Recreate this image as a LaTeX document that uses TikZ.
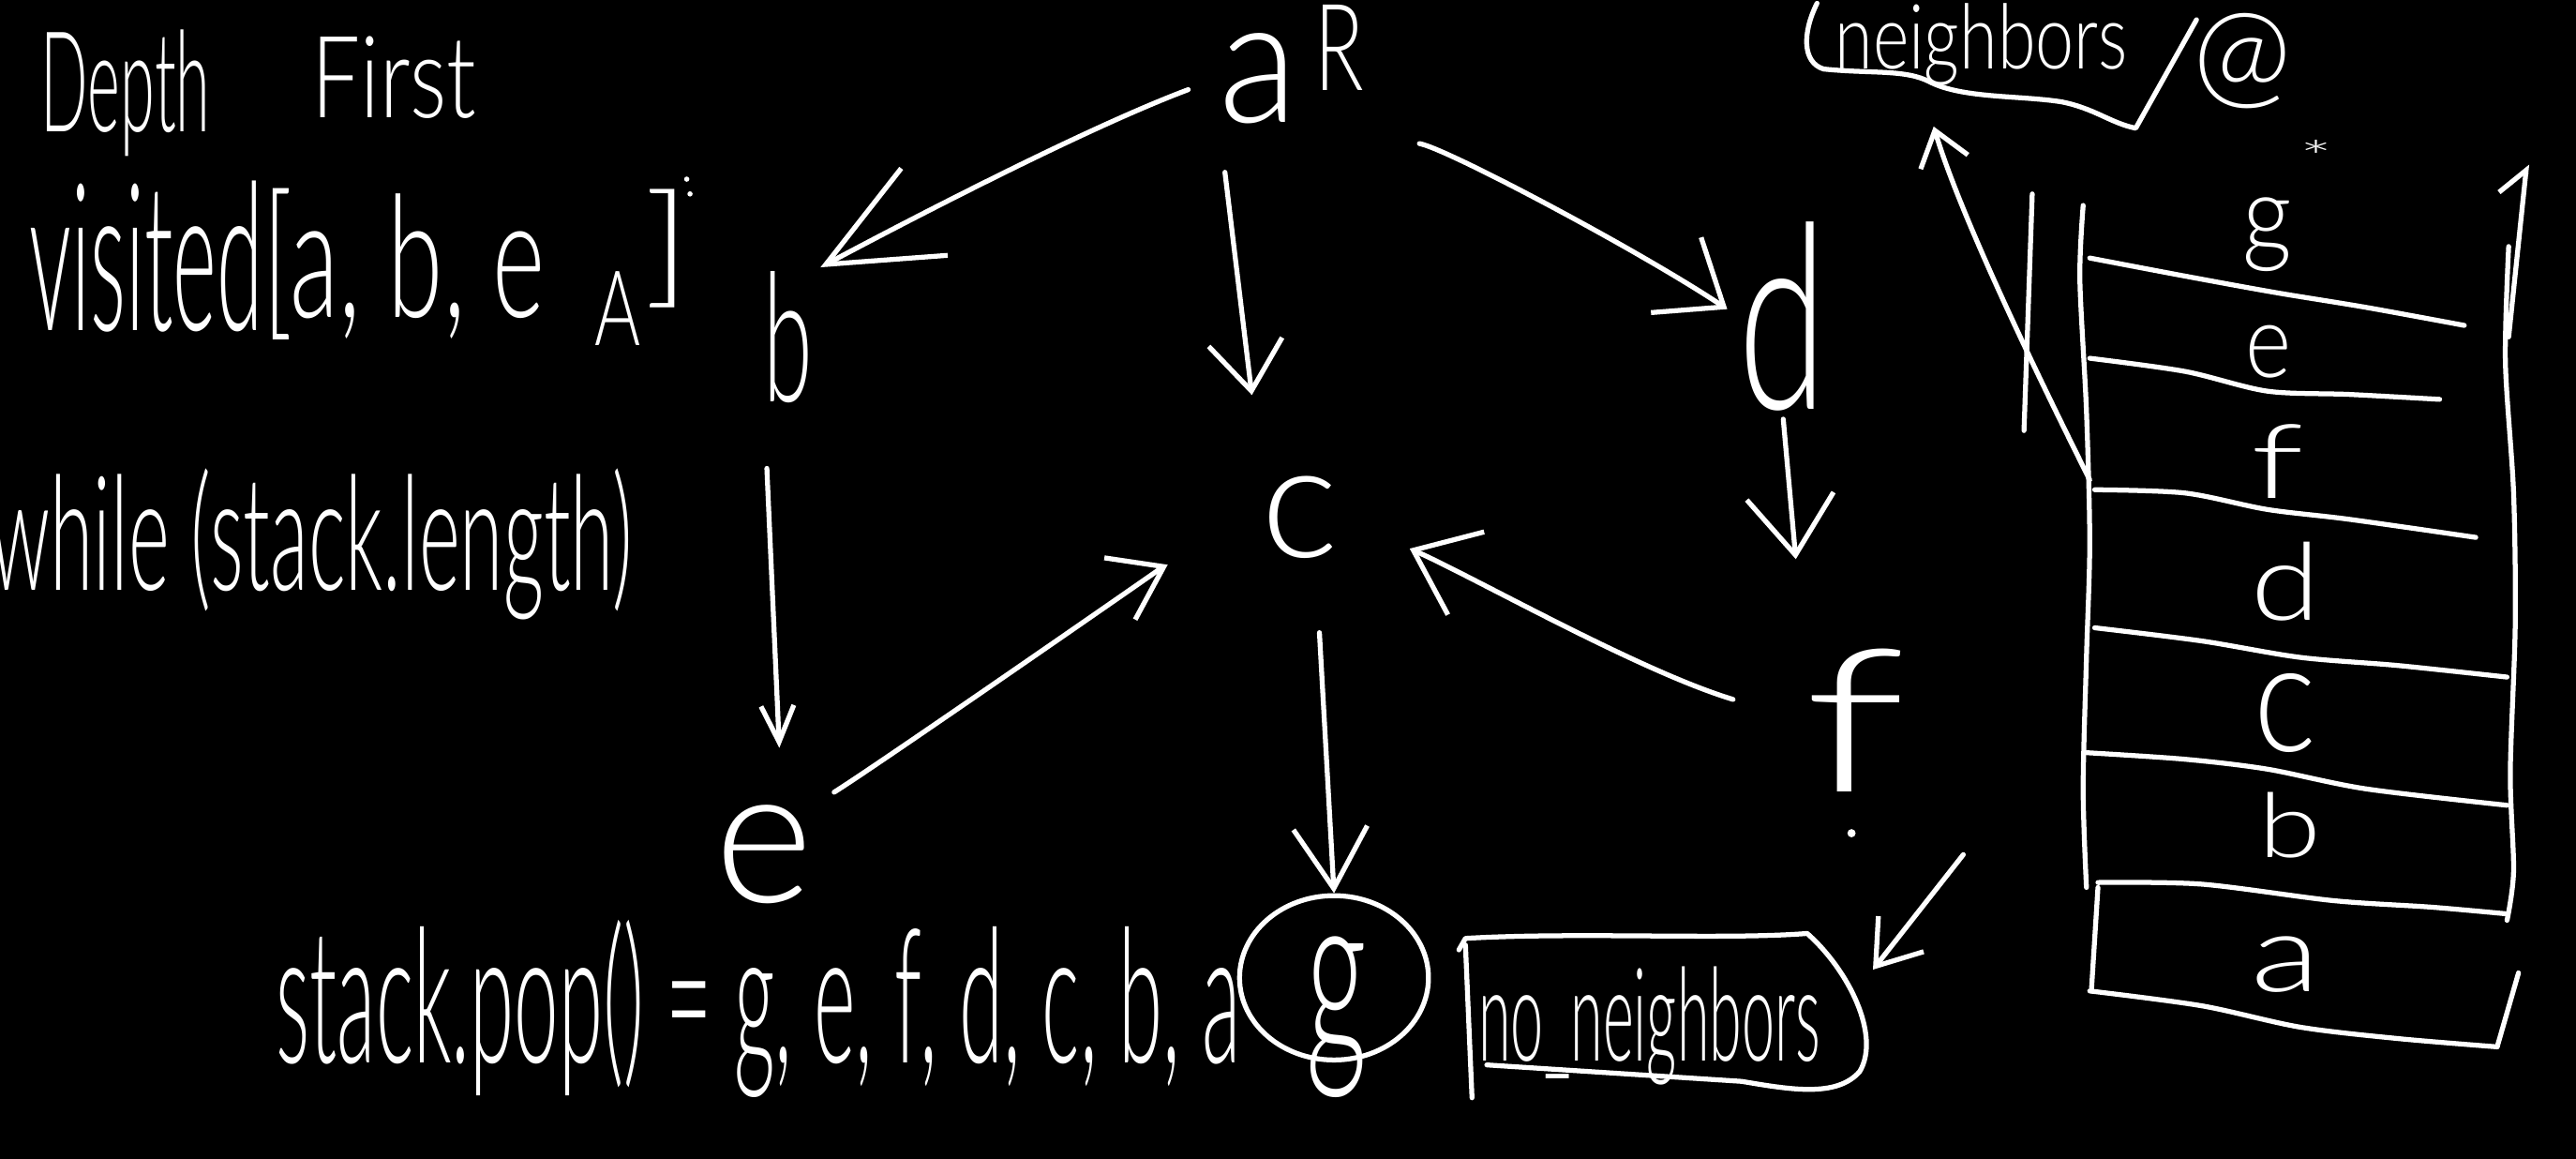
\documentclass[tikz,border=0pt]{standalone}
\usepackage{graphicx}
\usepackage{fontspec}
\usetikzlibrary{arrows.meta,shapes.geometric}

% chalk-like lettering in a light face
\IfFontExistsTF{Lato Light}{\newfontfamily\handL{Lato Light}}{\newfontfamily\handL{Lato}}

% text fitted to a box: name, left, top, width, height, text
\newcommand{\hwtext}[6]{%
  \node[txt] (#1) at (#2,#3) {\resizebox*{#4pt}{#5pt}{\handL #6}};}

\tikzset{
  txt/.style={inner sep=0pt, outer sep=0pt, text=white, anchor=north west},
  hd/.style 2 args={-{Straight Barb[length=#1pt,width=#2pt]}},
  chalk/.style={draw=white, line width=3pt, line cap=round, line join=round},
}

\begin{document}
\begin{tikzpicture}[x=1pt, y=-1pt, chalk]
\fill[black] (0,0) rectangle (1568,705);
\useasboundingbox (0,0) rectangle (1568,705);

% ---- notes on the left
\hwtext{depth}{25}{18}{103}{77}{Depth}
\hwtext{first}{190}{22}{100}{50}{First}
\hwtext{visited}{18}{110}{142}{92}{visited}
\hwtext{vlist}{160}{115}{172}{92}{[a, b, e}
\hwtext{vclose}{392}{115}{28}{72}{]}
\hwtext{vscrib}{362}{165}{28}{45}{A}
\fill[white] (418,109) circle (1.6) (420,118) circle (1.6);
\hwtext{while}{-6}{285}{391}{92}{while (stack.length)}
\hwtext{pop}{168}{560}{587}{108}{stack.pop() = g, e, f, d, c, b, a}

% ---- graph nodes
\hwtext{a}{742}{20}{48}{55}{a}
\hwtext{R}{800}{3}{30}{52}{R}
\hwtext{b}{465}{165}{30}{80}{b}
\hwtext{c}{768}{290}{47}{50}{c}
\hwtext{d}{1058}{135}{54}{115}{d}
\hwtext{e}{435}{490}{60}{60}{e}
\hwtext{f}{1098}{395}{62}{87}{f}
\hwtext{g}{795}{570}{37}{98}{g}
\node[draw, ellipse, minimum width=115pt, minimum height=100pt, inner sep=0pt] (gring) at (812,595) {};

% ---- "no_neighbors" label with its outline
\hwtext{nn}{900}{588}{208}{72}{no\_neighbors}
\draw (892,575) -- (896,668);
\draw (888,578) -- (892,571) .. controls (960,567) and (1050,572) .. (1100,568)
      .. controls (1125,590) and (1145,630) .. (1132,652)
      .. controls (1118,668) and (1090,663) .. (1060,658) -- (905,648);

% ---- graph edges
\draw[hd={68}{60}, shorten <=20pt, shorten >=5pt]
  (a.west) .. controls +(-80,30) and +(60,-32) .. (b.north east);
\draw[hd={30}{45}, shorten <=30pt, shorten >=50pt] (a.south west) -- (c.north west);
\draw[hd={35}{55}, shorten <=75pt, shorten >=8pt]
  (a.south east) .. controls +(90,15) and +(-60,-40) .. (d.west);
\draw[hd={22}{20}, shorten <=40pt, shorten >=35pt] (b.south west) -- (e.70);
\draw[hd={30}{42}, shorten <=15pt, shorten >=64pt]
  (e.north east) .. controls +(40,-25) and +(-60,30) .. (c.west);
\draw[hd={35}{55}, shorten <=45pt, shorten >=47pt]
  (f.west) .. controls +(-100,-30) and +(80,35) .. (c.east);
\draw[hd={36}{53}, shorten <=5pt, shorten >=55pt] (d.south) -- (f.north west);
\draw[hd={37}{45}, shorten <=45pt] (c.-70) -- (gring.north);
\draw[hd={25}{35}] ([shift={(35,38)}]f.south east) -- ([shift={(32,2)}]nn.north east);
\fill[white] (1127,507) circle (2.5);

% ---- neighbors(@) note
\hwtext{nbr}{1117}{2}{178}{50}{neighbors}
\hwtext{at}{1335}{8}{60}{58}{@}
\draw (1106,2) .. controls (1097,20) and (1097,38) .. (1110,42)
      .. controls (1140,45) and (1160,42) .. (1175,50)
      .. controls (1195,60) and (1230,58) .. (1255,62)
      .. controls (1275,66) and (1285,75) .. (1300,78) -- (1337,12);

% ---- stack
\draw plot[smooth] coordinates {(1268,125) (1266,170) (1270,250) (1272,330) (1270,400) (1268,480) (1270,540)};
\draw plot[smooth] coordinates {(1527,150) (1525,220) (1530,300) (1531,380) (1528,470) (1530,530) (1526,560)};
\draw plot[smooth] coordinates {(1272,157) (1330,168) (1385,178) (1440,187) (1500,198)};
\draw plot[smooth] coordinates {(1272,218) (1330,226) (1380,238) (1430,240) (1485,243)};
\draw plot[smooth] coordinates {(1275,298) (1330,300) (1380,310) (1430,316) (1507,327)};
\draw plot[smooth] coordinates {(1275,382) (1340,390) (1400,400) (1460,405) (1526,412)};
\draw plot[smooth] coordinates {(1270,458) (1330,462) (1380,468) (1440,480) (1526,490)};
\draw plot[smooth] coordinates {(1277,537) (1340,538) (1420,548) (1480,552) (1525,556)};
\draw (1277,540) -- (1273,603);
\draw plot[smooth] coordinates {(1272,603) (1340,612) (1400,625) (1460,632) (1520,637)};
\draw (1520,637) -- (1533,592);
\draw (1237,118) -- (1232,262);

\hwtext{sg}{1365}{120}{30}{45}{g}
\hwtext{star}{1400}{85}{20}{20}{*}
\hwtext{se}{1367}{198}{28}{32}{e}
\hwtext{sf}{1370}{258}{32}{45}{f}
\hwtext{sd}{1370}{330}{42}{48}{d}
\hwtext{sc}{1372}{410}{38}{48}{c}
\hwtext{sb}{1375}{482}{38}{40}{b}
\hwtext{sa}{1370}{570}{42}{34}{a}

\coordinate (stkL) at (1272,292);
\draw[hd={20}{30}]
  (stkL) .. controls +(-40,-80) and +(15,50) .. ([shift={(60,25)}]nbr.south west);
\coordinate (stkR) at (1527,205);
\coordinate (upR) at (1538,100);
\draw[-{Straight Barb[left,length=15pt,width=30pt]}] (stkR) -- (upR);
\end{tikzpicture}
\end{document}
